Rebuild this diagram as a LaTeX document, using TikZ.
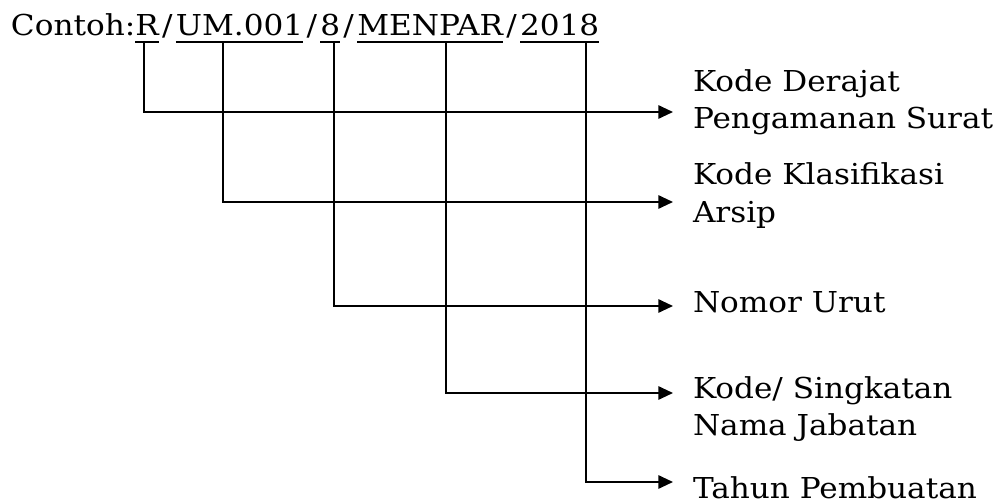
\documentclass[tikz,border=0pt]{standalone}
\usepackage{fontspec}
\setmainfont{DejaVu Serif}[FakeStretch=1.08]
\usetikzlibrary{arrows.meta}
\begin{document}
\begin{tikzpicture}[x=0.75pt,y=-0.75pt,
  txt/.style={inner sep=0pt, outer sep=0pt, anchor=base west,
    font=\fontsize{21.6}{26}\selectfont},
  slash/.style={txt, inner xsep=2.5pt},
  rule/.style={line width=1.4pt},
  conn/.style={line width=1.4pt, -{Triangle[length=11pt,width=10pt]}}]
\useasboundingbox (0,0) rectangle (1001,503);

% the example number, built piece by piece
\node[txt]   (c)  at (11,36)        {Contoh:};
\node[txt]   (pR) at (c.base east)  {R};
\node[slash] (s1) at (pR.base east) {/};
\node[txt]   (pK) at (s1.base east) {UM.001};
\node[slash] (s2) at (pK.base east) {/};
\node[txt]   (pN) at (s2.base east) {8};
\node[slash] (s3) at (pN.base east) {/};
\node[txt]   (pJ) at (s3.base east) {MENPAR};
\node[slash] (s4) at (pJ.base east) {/};
\node[txt]   (pT) at (s4.base east) {2018};

% underlines
\coordinate (ul) at (0,42);
\foreach \p in {pR,pK,pN,pJ,pT}
  \draw[rule] (\p.west |- ul) -- (\p.east |- ul);

% drop points on the underlines
\coordinate (dR) at (144,42);
\coordinate (dK) at (223,42);
\coordinate (dN) at (334,42);
\coordinate (dJ) at (446,42);
\coordinate (dT) at (586,42);

% arrow tips
\coordinate (tR) at (673,112);
\coordinate (tK) at (673,202);
\coordinate (tN) at (673,306);
\coordinate (tJ) at (673,393);
\coordinate (tT) at (673,482);

% explanations
\node[txt] (lR1) at (693,92)  {Kode Derajat};
\node[txt] (lR2) at (693,129) {Pengamanan Surat};
\node[txt] (lK1) at (693,185) {Kode Klasifikasi};
\node[txt] (lK2) at (693,223) {Arsip};
\node[txt] (lN)  at (693,312) {Nomor Urut};
\node[txt] (lJ1) at (693,398) {Kode/ Singkatan};
\node[txt] (lJ2) at (693,435) {Nama Jabatan};
\node[txt] (lT)  at (693,498) {Tahun Pembuatan};

% connectors
\draw[conn] (dR) |- (tR);
\draw[conn] (dK) |- (tK);
\draw[conn] (dN) |- (tN);
\draw[conn] (dJ) |- (tJ);
\draw[conn] (dT) |- (tT);
\end{tikzpicture}
\end{document}
